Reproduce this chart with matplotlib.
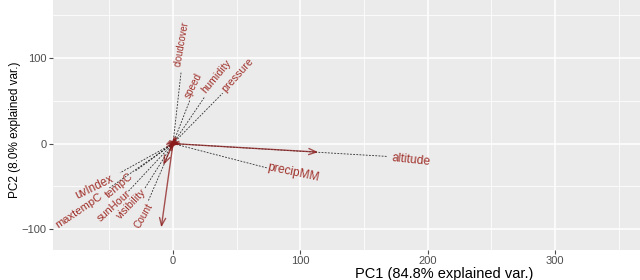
import numpy as np
import matplotlib.pyplot as plt

plt.rcParams['font.family'] = ['Liberation Sans', 'DejaVu Sans']

# variable names of the biplot
variables = ['cloudcover', 'speed', 'humidity', 'pressure', 'altitude', 'precipMM',
             'uvIndex', 'tempC', 'maxtempC', 'sunHour', 'visibility', 'Count']

# loading arrows (PC1, PC2)
arrow_x = [1.5, 2.5, 3.5, 4.5, 114, 5.0, -3.0, -2.5, -3.5, -2.0, -7.6, -9.2]
arrow_y = [3.0, 2.5, 3.0, 2.5, -10, 0.5, -2.0, -2.5, -3.0, -3.5, -25, -98]

# end of the dashed guide lines
line_x = [6.3, 13.3, 25, 39, 168, 73.6, -41.6, -30, -50, -35, -22, -19.4]
line_y = [83, 51, 55, 59, -15, -28.4, -34.2, -32.5, -52, -55.7, -52, -67]

# label centres and text angles
label_x = [6.8, 16, 34.3, 50.5, 187, 94.4, -62, -42.4, -73.8, -46.3, -32.4, -23.3]
label_y = [117, 67.7, 78.5, 80.5, -18.7, -34, -51.7, -49.6, -78.1, -72.3, -71.2, -84]
label_angle = [80, 63, 50, 48, -6, -12, 26, 40, 34, 42, 46, 60]

x_major = [0, 100, 200, 300]
y_major = [-100, 0, 100]
x_minor = [-50, 50, 150, 250, 350]
y_minor = [-50, 50, 150]

fig = plt.figure(figsize=(6.4, 2.8), dpi=100)
ax = fig.add_axes([53 / 640, 30 / 280, 587 / 640, 250 / 280])
ax.set_facecolor('#EBEBEB')
ax.set_xlim(-94.2, 366.6)
ax.set_ylim(-124.5, 168)

ax.set_xticks(x_major)
ax.set_yticks(y_major)
ax.set_xticks(x_minor, minor=True)
ax.set_yticks(y_minor, minor=True)
ax.grid(True, which='major', color='white', linewidth=1.1)
ax.grid(True, which='minor', color='white', linewidth=0.55)
ax.set_axisbelow(True)
for s in ax.spines.values():
    s.set_visible(False)
ax.tick_params(which='major', colors='#4D4D4D', labelsize=8, length=3,
               width=0.8, pad=1.5)
ax.tick_params(which='minor', length=0)

# dashed guides
for lx, ly in zip(line_x, line_y):
    ax.plot([0, lx], [0, ly], linestyle=(0, (2.2, 1.6)), color='black',
            linewidth=0.6, alpha=0.8, zorder=2)

# arrows
for axx, ayy in zip(arrow_x, arrow_y):
    ax.annotate('', xy=(axx, ayy), xytext=(0, 0),
                arrowprops=dict(arrowstyle='->,head_length=0.55,head_width=0.22',
                                color='#8B1A1A', lw=1.0, alpha=0.75,
                                shrinkA=0, shrinkB=0), zorder=3)

# rotated labels (wider when flat, narrower when steep)
for name, tx, ty, ang in zip(variables, label_x, label_y, label_angle):
    r = np.radians(ang)
    fs = np.hypot(8.7 * np.cos(r), 6.8 * np.sin(r))
    ax.text(tx, ty, name, color='#A0302A', fontsize=fs, rotation=ang,
            rotation_mode='anchor', ha='center', va='center', zorder=4)

fig.text(444 / 640, 1 - 274 / 280, 'PC1 (84.8% explained var.)', ha='center',
         va='center', fontsize=10.5, color='black')
fig.text(15 / 640, 1 - 130 / 280, 'PC2 (8.0% explained var.)', ha='center',
         va='center', rotation=90, fontsize=8.5, color='black')

fig.savefig('out.png', dpi=100)
